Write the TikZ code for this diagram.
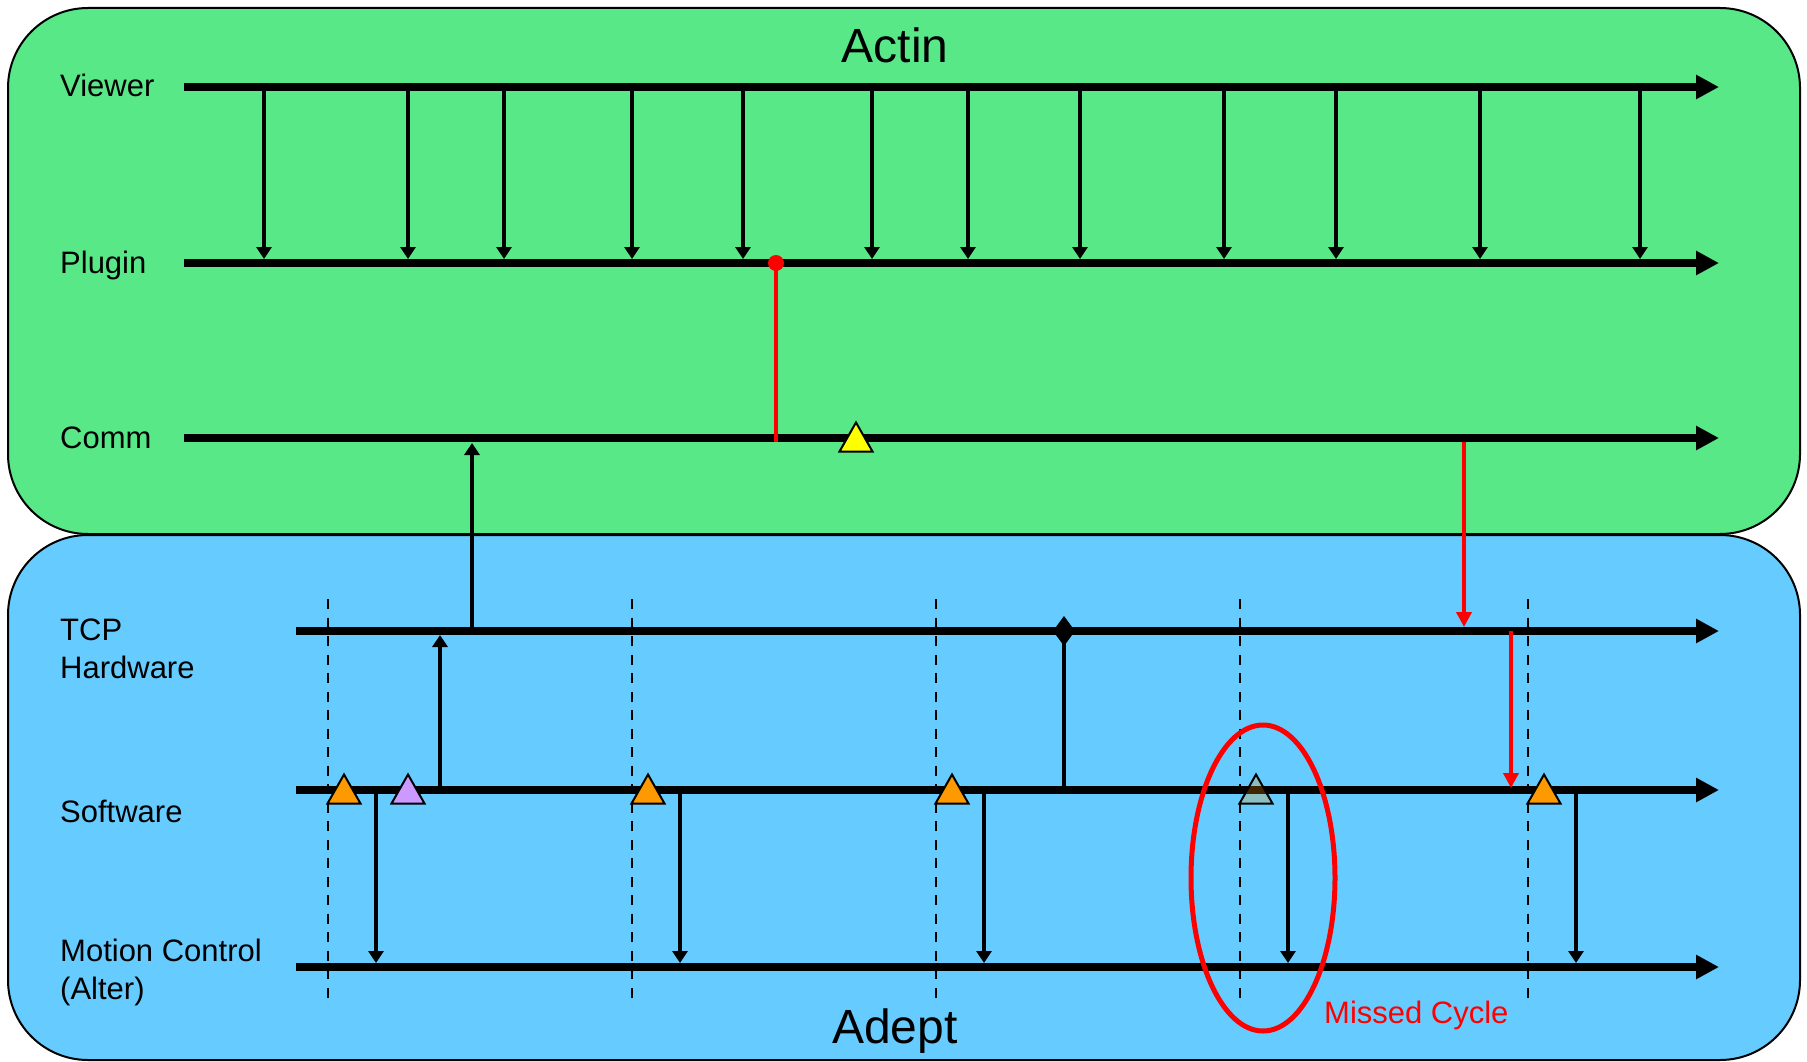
\documentclass[tikz,border=0pt]{standalone}
\usepackage{fontspec}
\setmainfont{Liberation Sans}
\usetikzlibrary{arrows.meta}
\definecolor{actgreen}{RGB}{88,232,136}
\definecolor{adblue}{RGB}{102,204,255}
\definecolor{triorange}{RGB}{255,153,0}
\definecolor{tripurple}{RGB}{204,153,255}
\definecolor{triyellow}{RGB}{255,255,0}
\definecolor{redc}{RGB}{255,0,0}
\begin{document}
\begin{tikzpicture}[x=1pt,y=-1pt,
  box/.style={draw=black,line width=2pt,rounded corners=80pt},
  lane/.style={line width=8pt,-{Triangle[length=23pt,width=23pt]}},
  msg/.style={line width=3.8pt,-{Triangle[length=12pt,width=15pt]}},
  redmsg/.style={draw=redc,line width=3.8pt,-{Triangle[length=15pt,width=15pt]},color=redc},
  cyc/.style={line width=2.8pt,dash pattern=on 10pt off 8.5pt},
  lbl/.style={font=\fontsize{31}{38}\selectfont,anchor=base west,inner sep=0pt},
  ttl/.style={font=\fontsize{48}{58}\selectfont,anchor=base,inner sep=0pt},
  tri/.pic={\path[pic actions] (0,-14.5) -- (16.5,14.5) -- (-16.5,14.5) -- cycle;},
  trimark/.style={draw=black,line width=2pt}
]
\useasboundingbox (0,0) rectangle (1807,1062);
% boxes
\draw[box,fill=actgreen] (8,8) rectangle (1800,534);
\draw[box,fill=adblue] (8,535) rectangle (1800,1060);
% titles
\node[ttl] (actin) at (895,63) {Actin};
\node[ttl] (adept) at (895,1043) {Adept};
% labels
\node[lbl] (lviewer) at (60,97) {Viewer};
\node[lbl] (lplugin) at (60,273) {Plugin};
\node[lbl] (lcomm) at (60,448) {Comm};
\node[lbl] (ltcp) at (60,640) {TCP};
\node[lbl] (lhw) at (60,678) {Hardware};
\node[lbl] (lsw) at (60,822) {Software};
\node[lbl] (lmc) at (60,961) {Motion Control};
\node[lbl] (lalt) at (60,999) {(Alter)};
% cycle boundaries
\foreach \x in {328,632,936,1240,1528}
  \draw[cyc] (\x,599) -- (\x,999);
% lanes
\draw[lane] (184,87) coordinate (v0) -- (1719,87) coordinate (v1);
\draw[lane] (184,263) coordinate (p0) -- (1719,263) coordinate (p1);
\draw[lane] (184,438) coordinate (c0) -- (1719,438) coordinate (c1);
\draw[lane] (296,631) coordinate (t0) -- (1719,631) coordinate (t1);
\draw[lane] (296,790) coordinate (s0) -- (1719,790) coordinate (s1);
\draw[lane] (296,967) coordinate (m0) -- (1719,967) coordinate (m1);
% viewer -> plugin
\foreach \x in {264,408,504,632,743,872,968,1080,1224,1336,1480,1640}
  \draw[msg] (\x,91) -- (\x,259);
% plugin -> comm (red)
\draw[redc,line width=4pt] (776,263) -- (776,442);
\fill[redc] (776,263) circle[radius=8pt];
% TCP -> comm, software -> TCP
\draw[msg] (472,631) -- (472,443);
\draw[msg] (440,790) -- (440,635);
% software -> motion control
\foreach \x in {376,680,984,1288,1576}
  \draw[msg] (\x,794) -- (\x,963);
% diamond link
\draw[line width=3.8pt] (1064,631) -- (1064,790);
\fill (1064,616) -- (1075,631) -- (1064,646) -- (1053,631) -- cycle;
% red messages
\draw[redmsg] (1464,442) -- (1464,627);
\draw[redmsg] (1511,631) -- (1511,788);
% markers
\pic[trimark,fill=triyellow] at (856,437) {tri};
\foreach \x in {344,648,952,1544}
  \pic[trimark,fill=triorange] at (\x,789) {tri};
\pic[trimark,fill=tripurple] at (408,789) {tri};
\pic[trimark,fill=triorange,fill opacity=0.25] at (1256,789) {tri};
% missed cycle
\draw[redc,line width=5pt] (1263,878) ellipse[x radius=72pt,y radius=153pt];
\node[lbl,text=redc] (missed) at (1324,1023) {Missed Cycle};
\end{tikzpicture}
\end{document}
